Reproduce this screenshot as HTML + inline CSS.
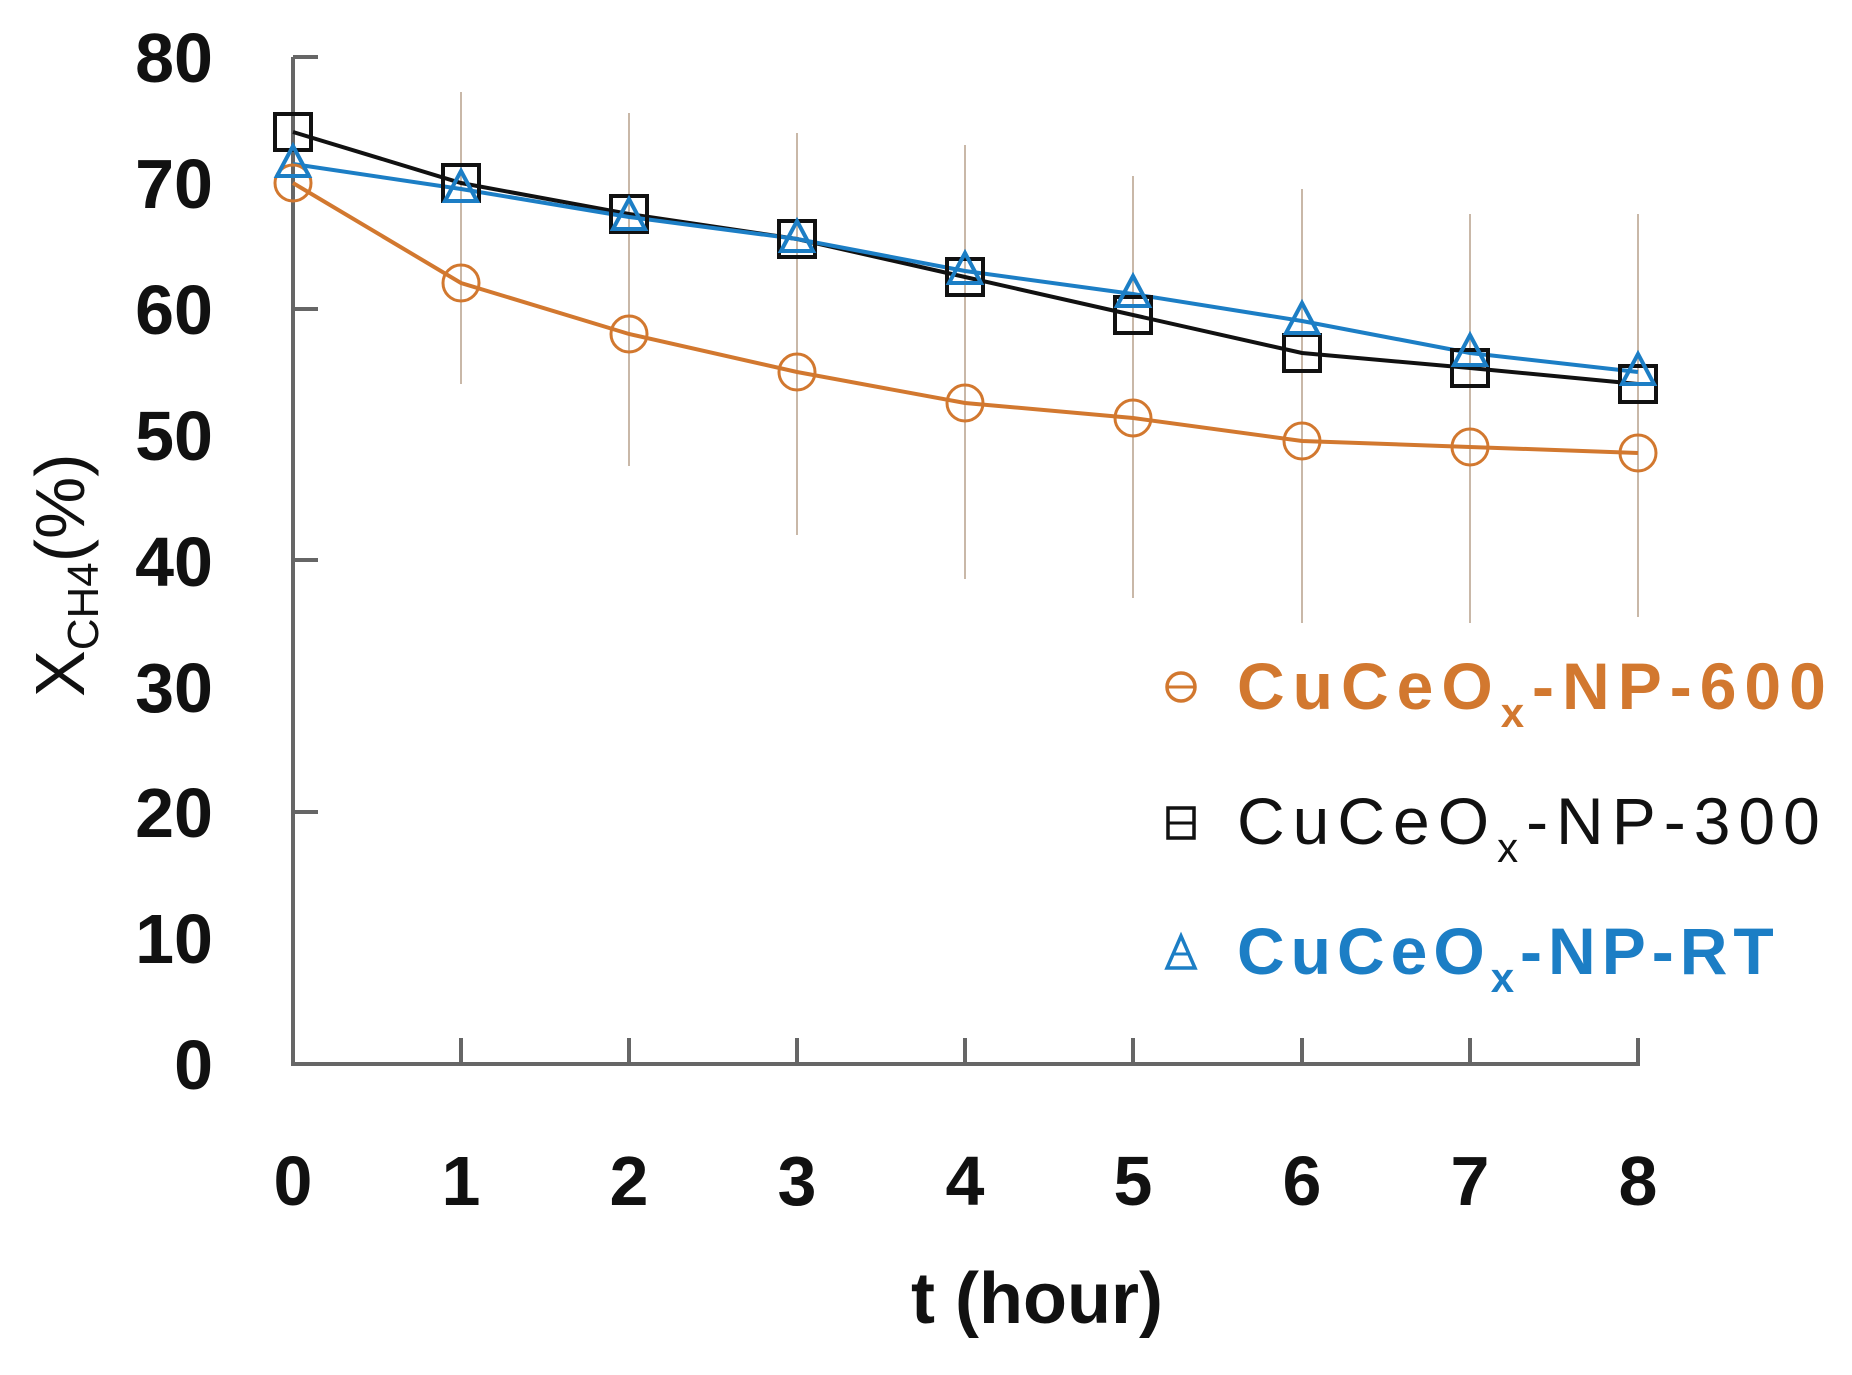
<!DOCTYPE html>
<html><head><meta charset="utf-8"><style>html,body{margin:0;padding:0;background:#fff;}svg{display:block}</style></head>
<body>
<svg width="1852" height="1375" viewBox="0 0 1852 1375" xmlns="http://www.w3.org/2000/svg" font-family="Liberation Sans, sans-serif">
<g stroke="#c9b8a8" stroke-width="2">
<line x1="461" y1="384" x2="461" y2="92"/>
<line x1="629" y1="466" x2="629" y2="113"/>
<line x1="797" y1="535" x2="797" y2="133"/>
<line x1="965" y1="579" x2="965" y2="145"/>
<line x1="1133" y1="598" x2="1133" y2="176"/>
<line x1="1302" y1="623" x2="1302" y2="189"/>
<line x1="1470" y1="623" x2="1470" y2="214"/>
<line x1="1638" y1="617" x2="1638" y2="214"/>
</g>
<g stroke="#666" stroke-width="4" fill="none">
<line x1="293" y1="57" x2="293" y2="1066"/>
<line x1="291" y1="1064" x2="1640" y2="1064"/>
<line x1="293" y1="57" x2="318" y2="57"/>
<line x1="293" y1="309" x2="318" y2="309"/>
<line x1="293" y1="560" x2="318" y2="560"/>
<line x1="293" y1="812" x2="318" y2="812"/>
<line x1="461" y1="1064" x2="461" y2="1038"/><line x1="629" y1="1064" x2="629" y2="1038"/>
<line x1="797" y1="1064" x2="797" y2="1038"/><line x1="965" y1="1064" x2="965" y2="1038"/>
<line x1="1133" y1="1064" x2="1133" y2="1038"/><line x1="1302" y1="1064" x2="1302" y2="1038"/>
<line x1="1470" y1="1064" x2="1470" y2="1038"/><line x1="1638" y1="1064" x2="1638" y2="1038"/>
</g>
<g font-size="70" font-weight="bold" fill="#111" text-anchor="end">
<text x="213" y="82">80</text><text x="213" y="208">70</text><text x="213" y="334">60</text>
<text x="213" y="460">50</text><text x="213" y="586">40</text><text x="213" y="712">30</text>
<text x="213" y="837">20</text><text x="213" y="963">10</text><text x="213" y="1089">0</text>
</g>
<g font-size="70" font-weight="bold" fill="#111" text-anchor="middle">
<text x="293" y="1205">0</text><text x="461" y="1205">1</text><text x="629" y="1205">2</text>
<text x="797" y="1205">3</text><text x="965" y="1205">4</text><text x="1133" y="1205">5</text>
<text x="1302" y="1205">6</text><text x="1470" y="1205">7</text><text x="1638" y="1205">8</text>
<text x="1037" y="1323" font-size="72">t (hour)</text>
</g>
<text transform="translate(84,697) rotate(-90)" font-size="70" fill="#111">X<tspan font-size="44" dy="14">CH4</tspan><tspan dy="-14">(%)</tspan></text>
<g fill="none" stroke-width="4">
<polyline stroke="#d2782f" points="293,183 461,283 629,334 797,372 965,403 1133,418 1302,441 1470,447 1638,453"/>
<polyline stroke="#111" points="293,132 461,183 629,214 797,239 965,277 1133,315 1302,353 1470,368 1638,384"/>
<polyline stroke="#1c7ec5" points="293,164 461,189 629,217 797,239 965,271 1133,294 1302,321 1470,353 1638,372"/>
</g>
<g fill="none" stroke="#d2782f" stroke-width="3">
<circle cx="293" cy="183" r="18"/><circle cx="461" cy="283" r="18"/><circle cx="629" cy="334" r="18"/>
<circle cx="797" cy="372" r="18"/><circle cx="965" cy="403" r="18"/><circle cx="1133" cy="418" r="18"/>
<circle cx="1302" cy="441" r="18"/><circle cx="1470" cy="447" r="18"/><circle cx="1638" cy="453" r="18"/>
</g>
<g fill="none" stroke="#111" stroke-width="4">
<rect x="275" y="114" width="36" height="36"/><rect x="443" y="165" width="36" height="36"/><rect x="611" y="196" width="36" height="36"/>
<rect x="779" y="221" width="36" height="36"/><rect x="947" y="259" width="36" height="36"/><rect x="1115" y="297" width="36" height="36"/>
<rect x="1284" y="335" width="36" height="36"/><rect x="1452" y="350" width="36" height="36"/><rect x="1620" y="366" width="36" height="36"/>
</g>
<g fill="none" stroke="#1c7ec5" stroke-width="4">
<polygon points="293,146 309,176 277,176"/><polygon points="461,171 477,201 445,201"/><polygon points="629,199 645,229 613,229"/>
<polygon points="797,221 813,251 781,251"/><polygon points="965,253 981,283 949,283"/><polygon points="1133,276 1149,306 1117,306"/>
<polygon points="1302,303 1318,333 1286,333"/><polygon points="1470,335 1486,365 1454,365"/><polygon points="1638,354 1654,384 1622,384"/>
</g>
<g font-size="66" font-weight="bold">
<circle cx="1181" cy="687" r="14" fill="none" stroke="#d2782f" stroke-width="3.5"/>
<line x1="1167" y1="687" x2="1195" y2="687" stroke="#d2782f" stroke-width="3"/>
<text x="1237" y="709" fill="#d2782f" letter-spacing="8">CuCeO<tspan font-size="42" dy="18">x</tspan><tspan dy="-18">-NP-600</tspan></text>
<rect x="1168" y="808" width="26" height="30" fill="none" stroke="#111" stroke-width="3.5"/>
<line x1="1168" y1="823" x2="1194" y2="823" stroke="#111" stroke-width="3"/>
<text x="1237" y="844" fill="#111" font-weight="normal" letter-spacing="8">CuCeO<tspan font-size="42" dy="18">x</tspan><tspan dy="-18">-NP-300</tspan></text>
<polygon points="1181,936 1195,968 1167,968" fill="none" stroke="#1c7ec5" stroke-width="3.5"/>
<line x1="1172" y1="954" x2="1190" y2="954" stroke="#1c7ec5" stroke-width="3"/>
<text x="1237" y="974" fill="#1c7ec5" letter-spacing="6">CuCeO<tspan font-size="42" dy="18">x</tspan><tspan dy="-18">-NP-RT</tspan></text>
</g>
</svg>
</body></html>
